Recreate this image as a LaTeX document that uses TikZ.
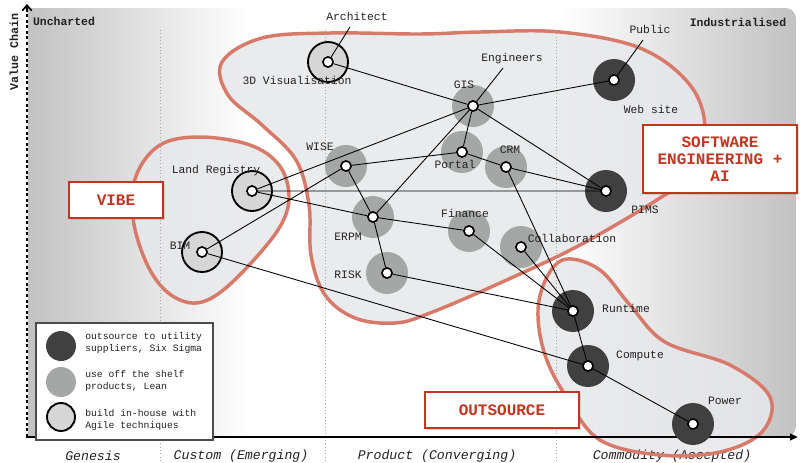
\documentclass[tikz,border=0pt]{standalone}
\usepackage{fontspec}
\setmainfont{Liberation Mono}
\usetikzlibrary{arrows.meta,shadows}
\definecolor{darkc}{HTML}{404040}
\definecolor{medc}{HTML}{A5A7A7}
\definecolor{inhc}{HTML}{D6D6D6}
\definecolor{blobc}{HTML}{D87A6A}
\definecolor{blobf}{HTML}{E7E8EB}
\definecolor{redt}{HTML}{C4351F}
\definecolor{bgg}{HTML}{C2C2C2}
\definecolor{txtc}{HTML}{222222}
\newcommand{\blobSE}{(222,62) (262,38) (330,33) (420,34) (480,32) (560,32) (640,48) (690,85) (705,130)
  (690,175) (660,198) (580,245) (500,283) (430,313) (395,323) (355,318) (325,295)
  (311,255) (309,205) (296,160) (262,125) (228,95)}
\newcommand{\blobVB}{(160,145) (200,137) (250,145) (279,165) (289,195) (281,225) (252,262) (218,294)
  (192,303) (166,291) (146,262) (133,218) (136,176)}
\newcommand{\blobOS}{(567,259) (600,270) (630,305) (665,342) (730,365) (770,397) (762,432) (720,452)
  (660,455) (600,440) (567,398) (545,355) (538,310) (548,275)}
\begin{document}
\begin{tikzpicture}[x=0.75pt,y=-0.75pt,
  disc/.style={circle, inner sep=0pt, minimum size=31.5pt},
  dk/.style={disc, fill=darkc},
  md/.style={disc, fill=medc},
  ih/.style={disc, fill=inhc, draw=black, line width=1.4pt, minimum size=30pt},
  dot/.style={circle, fill=white, draw=black, line width=1.1pt, inner sep=0pt, minimum size=7.5pt},
  lbl/.style={font=\fontsize{8.5}{10}\selectfont, text=txtc, inner sep=0pt},
  edge/.style={draw=black, line width=0.65pt},
  blobfill/.style={fill=blobf, fill opacity=0.85},
  blobline/.style={draw=blobc, line width=2.6pt},
  divider/.style={draw=black!35, dotted, line width=0.5pt},
  tagbox/.style={draw=redt, line width=1.5pt, fill=white, text=redt, align=center,
    font=\bfseries\fontsize{12}{13}\selectfont, inner sep=0pt,
    drop shadow={opacity=0.25, shadow xshift=1.5pt, shadow yshift=-1.5pt}},
  axlbl/.style={font=\itshape\fontsize{9.9}{11}\selectfont, text=txtc, inner sep=0pt},
  legtxt/.style={font=\fontsize{7.3}{9}\selectfont, text=txtc, align=left, anchor=west, inner sep=0pt},
  legc/.style={circle, inner sep=0pt, minimum size=22.5pt}
]
\useasboundingbox (0,0) rectangle (800,462);

% background
\begin{scope}
\clip (28,437) -- (28,8) [rounded corners=8pt] -- (796,8) -- (796,437) [sharp corners] -- cycle;
\shade[left color=bgg, right color=white] (28,8) rectangle (250,437);
\fill[white] (250,8) rectangle (560,437);
\shade[left color=white, right color=bgg] (560,8) rectangle (796,437);
\end{scope}

% blob fills
\fill[blobfill] plot[smooth cycle, tension=0.6] coordinates {\blobSE};
\fill[blobfill] plot[smooth cycle, tension=0.6] coordinates {\blobVB};
\fill[blobfill] plot[smooth cycle, tension=0.6] coordinates {\blobOS};

% axis stage labels
\node[axlbl] (ax1) at (93,456) {Genesis};
\node[axlbl] (ax2) at (241,456) {Custom (Emerging)};
\node[axlbl] (ax3) at (437,456) {Product (Converging)};
\node[axlbl] (ax4) at (672,456) {Commodity (Accepted)};

% blob outlines
\draw[blobline] plot[smooth cycle, tension=0.6] coordinates {\blobSE};
\draw[blobline] plot[smooth cycle, tension=0.6] coordinates {\blobVB};
\draw[blobline] plot[smooth cycle, tension=0.6] coordinates {\blobOS};

% dividers
\draw[divider] (160,30) -- (160,462);
\draw[divider] (325,30) -- (325,462);
\draw[divider] (556,30) -- (556,462);

% axes
\draw[line width=1.6pt, -{Triangle[length=6pt,width=5pt]}] (26,437) -- (798,437);
\draw[line width=2.2pt, dotted] (27,437) -- (27,10);
\draw[line width=1.3pt, -{Straight Barb[length=4pt,width=7pt]}] (27,12) -- (27,4);

\node[font=\bfseries\fontsize{8.8}{10}\selectfont, text=txtc, rotate=90, inner sep=0pt] (vc) at (14,52) {Value Chain};
\node[font=\bfseries\fontsize{8.6}{10}\selectfont, text=txtc, inner sep=0pt] (unch) at (64,21) {Uncharted};
\node[font=\bfseries\fontsize{8.6}{10}\selectfont, text=txtc, inner sep=0pt] (indu) at (738,22) {Industrialised};

% discs
\node[ih] (vizd) at (328,62) {};
\node[md] (gisd) at (473,106) {};
\node[dk] (webd) at (614,80) {};
\node[md] (portald) at (462,152) {};
\node[md] (crmd) at (506,167) {};
\node[md] (wised) at (346,166) {};
\node[dk] (pimsd) at (606,191) {};
\node[ih] (lrd) at (252,191) {};
\node[md] (erpmd) at (373,217) {};
\node[md] (financed) at (469,231) {};
\node[md] (collabd) at (521,247) {};
\node[ih] (bimd) at (202,252) {};
\node[md] (riskd) at (387,273) {};
\node[dk] (runtimed) at (573,311) {};
\node[dk] (computed) at (588,366) {};
\node[dk] (powerd) at (693,424) {};

% dots (named anchors for connectors)
\node[dot] (viz) at (328,62) {};
\node[dot] (gis) at (473,106) {};
\node[dot] (web) at (614,80) {};
\node[dot] (portal) at (462,152) {};
\node[dot] (crm) at (506,167) {};
\node[dot] (wise) at (346,166) {};
\node[dot] (pims) at (606,191) {};
\node[dot] (lr) at (252,191) {};
\node[dot] (erpm) at (373,217) {};
\node[dot] (finance) at (469,231) {};
\node[dot] (collab) at (521,247) {};
\node[dot] (bim) at (202,252) {};
\node[dot] (risk) at (387,273) {};
\node[dot] (runtime) at (573,311) {};
\node[dot] (compute) at (588,366) {};
\node[dot] (power) at (693,424) {};

% labels
\node[lbl] (archl) at (357,16) {Architect};
\node[lbl] (vizl) at (297,80) {3D Visualisation};
\node[lbl] (engl) at (512,59) {Engineers};
\node[lbl] (gisl) at (464,85) {GIS};
\node[lbl] (publ) at (650,29) {Public};
\node[lbl] (webl) at (651,109) {Web site};
\node[lbl] (portall) at (455,164) {Portal};
\node[lbl] (crml) at (510,150) {CRM};
\node[lbl] (wisel) at (320,147) {WISE};
\node[lbl] (erpml) at (348,237) {ERPM};
\node[lbl] (financel) at (465,213) {Finance};
\node[lbl] (collabl) at (572,238) {Collaboration};
\node[lbl] (riskl) at (348,275) {RISK};
\node[lbl] (pimsl) at (645,210) {PIMS};
\node[lbl] (lrl) at (216,171) {Land Registry};
\node[lbl] (biml) at (180,246) {BIM};
\node[lbl] (runtimel) at (626,308) {Runtime};
\node[lbl] (computel) at (640,356) {Compute};
\node[lbl] (powerl) at (725,401) {Power};

\coordinate (archend) at (350,27);
\coordinate (engend) at (503,68);
\coordinate (pubend) at (643,40);

% edges
\path[edge]
  (archend) -- (viz)
  (engend) -- (gis)
  (pubend) -- (web)
  (viz) -- (gis)
  (gis) -- (web)
  (gis) -- (portal)
  (gis) -- (lr)
  (gis) -- (erpm)
  (gis) -- (pims)
  (portal) -- (wise)
  (portal) -- (crm)
  (crm) -- (pims)
  (crm) -- (runtime)
  (wise) -- (bim)
  (wise) -- (erpm)
  (lr) -- (pims)
  (lr) -- (erpm)
  (erpm) -- (finance)
  (erpm) -- (risk)
  (finance) -- (runtime)
  (collab) -- (runtime)
  (risk) -- (runtime)
  (runtime) -- (compute)
  (compute) -- (power)
  (bim) -- (compute);

% redraw dots on top of connectors
\foreach \p in {(328,62), (473,106), (614,80), (462,152), (506,167), (346,166), (606,191),
  (252,191), (373,217), (469,231), (521,247), (202,252), (387,273), (573,311), (588,366), (693,424)}
  \node[dot] at \p {};

% tag boxes
\node[tagbox, minimum width=70pt, minimum height=27pt] (vibe) at (116,200) {VIBE};
\node[tagbox, minimum width=116pt, minimum height=51pt] (seai) at (720,159) {SOFTWARE\\ENGINEERING +\\AI};
\node[tagbox, minimum width=116pt, minimum height=27pt] (outs) at (502,410) {OUTSOURCE};

% legend
\node[draw=black!70, fill=white, line width=0.8pt, minimum width=132.75pt, minimum height=87.75pt, inner sep=0pt] (legend) at (124.5,381.5) {};
\node[legc, fill=darkc] (leg1) at (61,346) {};
\node[legc, fill=medc] (leg2) at (61,382) {};
\node[legc, fill=inhc, draw=black, line width=1.4pt, minimum size=21pt] (leg3) at (61,417) {};
\node[legtxt] (leg1t) at (85,343) {outsource to utility\\suppliers, Six Sigma};
\node[legtxt] (leg2t) at (85,381) {use off the shelf\\products, Lean};
\node[legtxt] (leg3t) at (85,420) {build in-house with\\Agile techniques};
\end{tikzpicture}
\end{document}
